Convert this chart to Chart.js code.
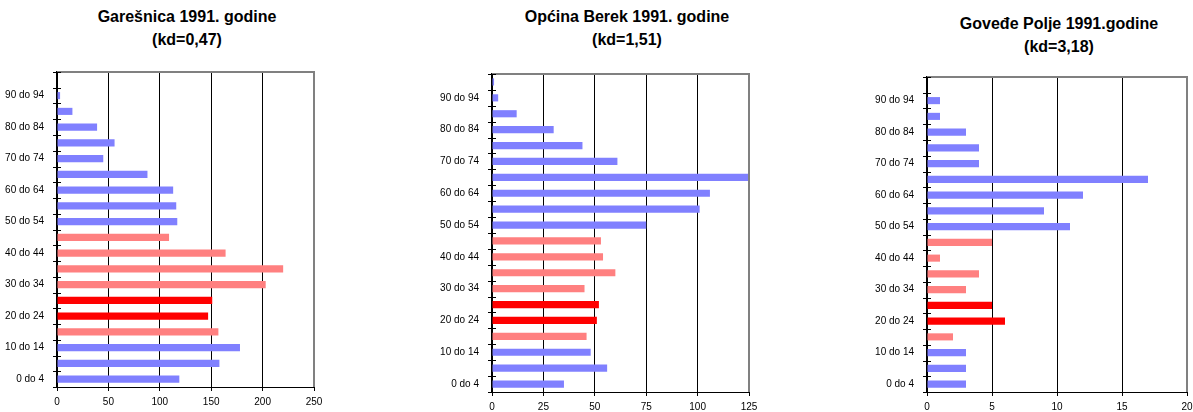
<!DOCTYPE html>
<html>
<head>
<meta charset="utf-8">
<script src="https://cdn.jsdelivr.net/npm/chart.js@4"></script>
<style>
  body { margin: 0; background: #fff; width: 1193px; height: 412px; position: relative; overflow: hidden; }
  .title { position: absolute; font: bold 16px "Liberation Sans", Arial, sans-serif; text-align: center; line-height: 23px; color: #000; transform: translateX(-50%); white-space: nowrap; }
  canvas { position: absolute; top: 60px; }
</style>
</head>
<body>
<div class="title" style="left:187px; top:5px;">Garešnica 1991. godine<br>(kd=0,47)</div>
<div class="title" style="left:627px; top:5px;">Općina Berek 1991. godine<br>(kd=1,51)</div>
<div class="title" style="left:1059px; top:12px;">Goveđe Polje 1991.godine<br>(kd=3,18)</div>
<canvas id="chart1" width="330" height="352" style="left:0px"></canvas>
<canvas id="chart2" width="335" height="352" style="left:430px"></canvas>
<canvas id="chart3" width="333" height="352" style="left:860px"></canvas>
<script>
// age groups, bottom to top
const ageGroups = ['0 do 4', '5 do 9', '10 do 14', '15 do 19', '20 do 24', '25 do 29', '30 do 34',
    '35 do 39', '40 do 44', '45 do 49', '50 do 54', '55 do 59', '60 do 64', '65 do 69',
    '70 do 74', '75 do 79', '80 do 84', '85 do 89', '90 do 94', '95 i više'];

const garesnica = [119, 158, 178, 157, 147, 151, 203, 220, 164, 109, 117, 116, 113, 88, 45, 56, 39, 15, 3, 0];
const berek = [35, 56, 48, 46, 51, 52, 45, 60, 54, 53, 75, 101, 106, 125, 61, 44, 30, 12, 3, 1];
const govedjePolje = [3, 3, 3, 2, 6, 5, 3, 4, 1, 5, 11, 9, 12, 17, 4, 4, 3, 1, 1, 0];

const xMax1 = 250, xMax2 = 125, xMax3 = 20;
const xStep1 = 50, xStep2 = 25, xStep3 = 5;

// colour group of each age group
const blue = '#8080FF', pink = '#FF8080', red = '#FF0000';
const groupColors = [blue, blue, blue, pink, red, red, pink, pink, pink, pink,
    blue, blue, blue, blue, blue, blue, blue, blue, blue, blue];

const font = { family: '"Liberation Sans", Arial, sans-serif', size: 10 };

// frame: gray top/right border + ticks crossing the y axis
const framePlugin = {
    id: 'frame',
    afterDraw(chart) {
        const c = chart.ctx, a = chart.chartArea, y = chart.scales.y;
        c.save();
        c.strokeStyle = '#808080';
        c.lineWidth = 2;
        c.beginPath();
        c.moveTo(a.left, a.top);
        c.lineTo(a.right, a.top);
        c.lineTo(a.right, a.bottom);
        c.stroke();
        c.strokeStyle = '#000';
        c.lineWidth = 1;
        const step = Math.abs(y.getPixelForValue(1) - y.getPixelForValue(0));
        c.beginPath();
        for (let i = 0; i <= ageGroups.length; i++) {
            const py = Math.round(y.getPixelForValue(i) + step / 2) + 0.5;
            c.moveTo(a.left - 4, py);
            c.lineTo(a.left + 4, py);
        }
        c.stroke();
        c.restore();
    }
};

function makeChart(id, values, xMax, xStep, yWidth, padTop, padRight, xHeight) {
    new Chart(document.getElementById(id), {
        type: 'bar',
        data: {
            labels: ageGroups,
            datasets: [{
                data: values,
                backgroundColor: groupColors,
                borderWidth: 0,
                barPercentage: 0.45,
                categoryPercentage: 1
            }]
        },
        options: {
            indexAxis: 'y',
            responsive: false,
            animation: false,
            layout: { padding: { top: padTop, right: padRight, left: 0, bottom: 0 } },
            plugins: { legend: { display: false }, tooltip: { enabled: false } },
            scales: {
                x: {
                    min: 0,
                    max: xMax,
                    ticks: { stepSize: xStep, font: font, color: '#000', padding: 5, maxRotation: 0 },
                    grid: { color: '#000', lineWidth: 1, tickLength: 4 },
                    border: { color: '#000', width: 1 },
                    afterFit(s) { s.height = xHeight; s.paddingLeft = 0; s.paddingRight = 0; }
                },
                y: {
                    reverse: true,
                    ticks: {
                        font: font, color: '#000', padding: 5, autoSkip: false,
                        callback: (v, i) => (i % 2 === 0 ? ageGroups[i] : '')
                    },
                    grid: { display: false },
                    border: { color: '#000', width: 1.5 },
                    afterFit(s) { s.width = yWidth; s.paddingTop = 0; s.paddingBottom = 0; }
                }
            }
        },
        plugins: [framePlugin]
    });
}

makeChart('chart1', garesnica, xMax1, xStep1, 57, 12, 16, 25);
makeChart('chart2', berek, xMax2, xStep2, 62, 14, 16, 20);
makeChart('chart3', govedjePolje, xMax3, xStep3, 67, 17, 6, 20);
</script>
</body>
</html>
